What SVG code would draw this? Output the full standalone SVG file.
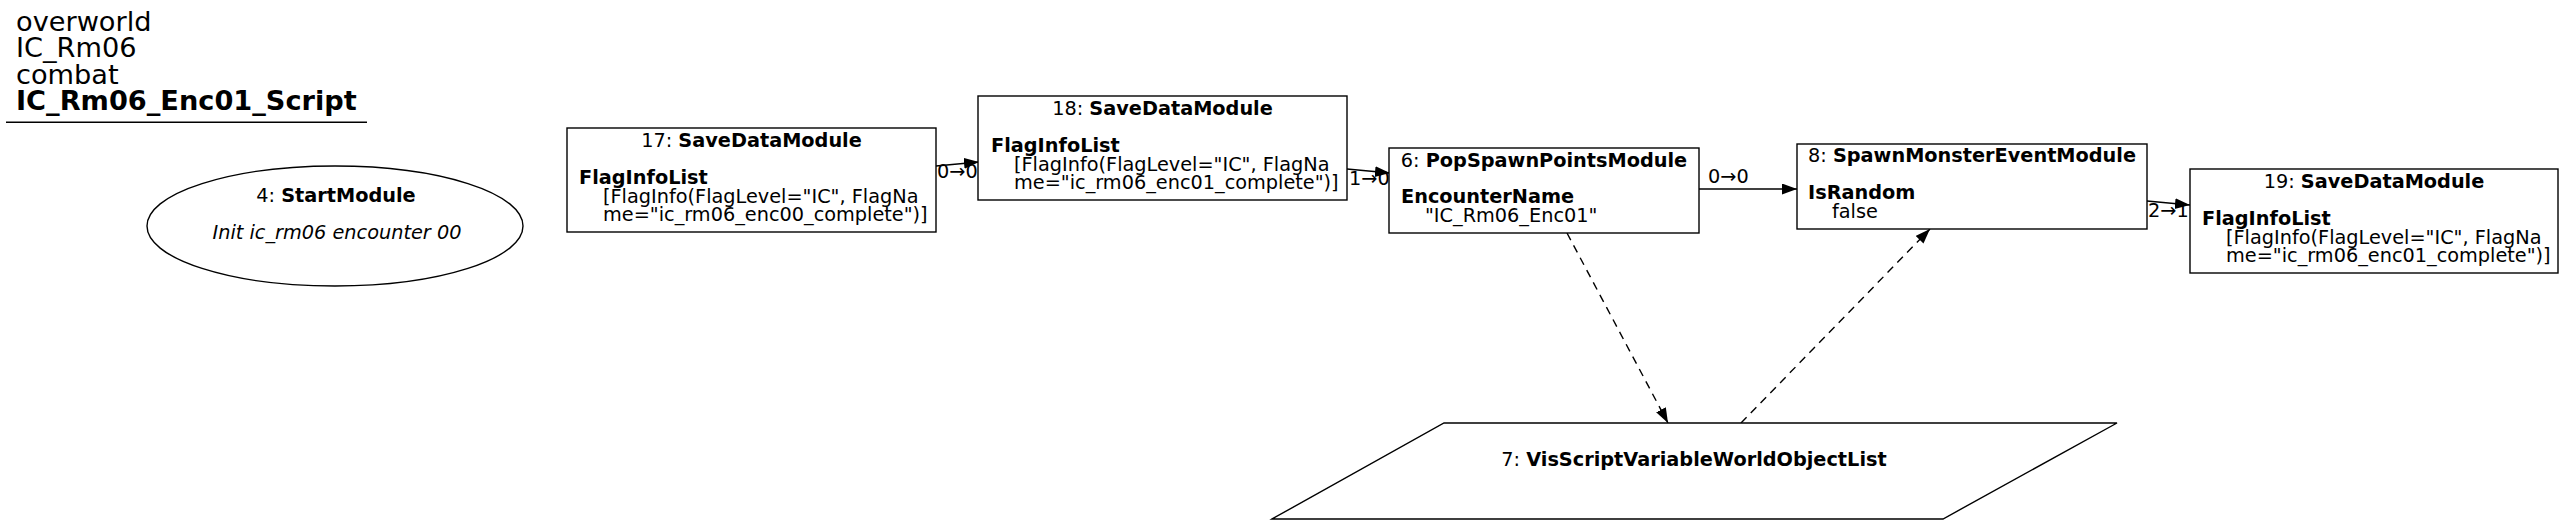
<svg xmlns="http://www.w3.org/2000/svg" width="2563" height="524" viewBox="0 0 2563 524">
<style>
text{font-family:"DejaVu Sans","Liberation Sans",sans-serif;font-size:19.3px;fill:#000}
.t{font-size:27.2px}
.b{font-weight:bold}
.i{font-style:italic}
.m{text-anchor:middle}
.shape{fill:#fff;stroke:#000;stroke-width:1.4}
.e{fill:none;stroke:#000;stroke-width:1.4}
.d{stroke-dasharray:8,6}
</style>
<defs>
<marker id="ah" markerUnits="userSpaceOnUse" markerWidth="17" markerHeight="13" refX="15" refY="5.5" orient="auto">
<path d="M0,0 L15,5.5 L0,11 z" fill="#000"/>
</marker>
</defs>
<rect width="2563" height="524" fill="#fff"/>
<g id="title">
<text class="t" x="16" y="31">overworld</text>
<text class="t" x="16" y="57">IC_Rm06</text>
<text class="t" x="16" y="83.5">combat</text>
<text class="t b" x="16" y="110">IC_Rm06_Enc01_Script</text>
<line x1="6" y1="122.3" x2="367" y2="122.3" stroke="#000" stroke-width="1.4"/>
</g>
<g id="connectors">
<path class="e" d="M936,166 L979,162" marker-end="url(#ah)"/>
<text x="937" y="178">0→0</text>
<path class="e" d="M1347,169 L1390,173" marker-end="url(#ah)"/>
<text x="1349" y="185">1→0</text>
<path class="e" d="M1699,189 L1797,189" marker-end="url(#ah)"/>
<text x="1708" y="183">0→0</text>
<path class="e" d="M2147,201 L2190,205" marker-end="url(#ah)"/>
<text x="2148" y="217">2→1</text>
<path class="e d" d="M1567,233 L1668,423" marker-end="url(#ah)"/>
<path class="e d" d="M1741,423 L1930,229" marker-end="url(#ah)"/>
</g>
<g id="node4">
<ellipse class="shape" cx="335" cy="226" rx="188" ry="60"/>
<text class="m" x="336" y="202">4: <tspan class="b">StartModule</tspan></text>
<text class="m i" x="337" y="239">Init ic_rm06 encounter 00</text>
</g>
<g id="node17">
<rect class="shape" x="567" y="128" width="369" height="104"/>
<text class="m" x="751.5" y="147">17: <tspan class="b">SaveDataModule</tspan></text>
<text class="b" x="579" y="184">FlagInfoList</text>
<text x="603" y="203">[FlagInfo(FlagLevel="IC", FlagNa</text>
<text x="603" y="221">me="ic_rm06_enc00_complete")]</text>
</g>
<g id="node18">
<rect class="shape" x="978" y="96" width="369" height="104"/>
<text class="m" x="1162.5" y="115">18: <tspan class="b">SaveDataModule</tspan></text>
<text class="b" x="991" y="152">FlagInfoList</text>
<text x="1014" y="171">[FlagInfo(FlagLevel="IC", FlagNa</text>
<text x="1014" y="189">me="ic_rm06_enc01_complete")]</text>
</g>
<g id="node6">
<rect class="shape" x="1389" y="148" width="310" height="85"/>
<text class="m" x="1544" y="167">6: <tspan class="b">PopSpawnPointsModule</tspan></text>
<text class="b" x="1401" y="203">EncounterName</text>
<text x="1425" y="222">"IC_Rm06_Enc01"</text>
</g>
<g id="node8">
<rect class="shape" x="1797" y="144" width="350" height="85"/>
<text class="m" x="1972" y="162">8: <tspan class="b">SpawnMonsterEventModule</tspan></text>
<text class="b" x="1808" y="199">IsRandom</text>
<text x="1832" y="218">false</text>
</g>
<g id="node19">
<rect class="shape" x="2190" y="169" width="368" height="104"/>
<text class="m" x="2374" y="188">19: <tspan class="b">SaveDataModule</tspan></text>
<text class="b" x="2202" y="225">FlagInfoList</text>
<text x="2226" y="244">[FlagInfo(FlagLevel="IC", FlagNa</text>
<text x="2226" y="262">me="ic_rm06_enc01_complete")]</text>
</g>
<g id="node7">
<polygon class="shape" points="1444,423 2117,423 1943,519 1272,519"/>
<text class="m" x="1694" y="466">7: <tspan class="b">VisScriptVariableWorldObjectList</tspan></text>
</g>
</svg>
